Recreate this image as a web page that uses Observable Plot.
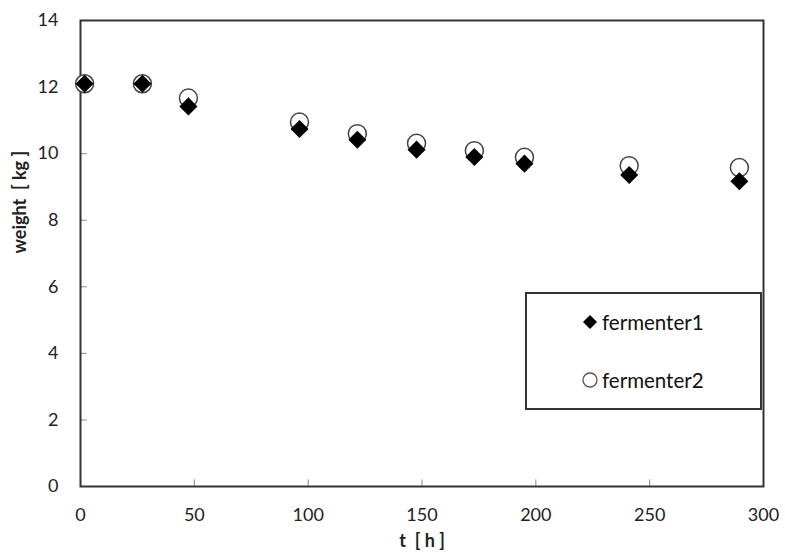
<!DOCTYPE html>
<html><head><meta charset="utf-8">
<script src="https://cdn.jsdelivr.net/npm/d3@7"></script>
<script src="https://cdn.jsdelivr.net/npm/@observablehq/plot@0.6"></script>
<style>
body{margin:0;background:#fff;font-family:Lato,"Open Sans",sans-serif;}
#wrap{position:relative;width:785px;height:554px;}
#legend{position:absolute;left:525px;top:292px;width:237px;height:118px;border:2px solid #333;box-sizing:border-box;background:#fff;font-size:20.5px;color:#111;}
.li{position:absolute;left:55px;display:flex;align-items:center;}
.li svg{margin-right:4px;}
</style></head>
<body><div id="wrap"><div id="chart"></div>
<div id="legend">
<div class="li" style="top:16px"><svg width="16" height="16"><path d="M8,1L15,8L8,15L1,8Z" fill="#000"/></svg>fermenter1</div>
<div class="li" style="top:74px"><svg width="16" height="16"><circle cx="8" cy="8" r="7" fill="none" stroke="#555" stroke-width="1.3"/></svg>fermenter2</div>
</div></div>
<script>
const times = [1.8, 27.2, 47.4, 96.2, 121.6, 147.6, 173, 195, 241, 289.4];
const fermenter1 = [12.1, 12.1, 11.42, 10.74, 10.42, 10.12, 9.9, 9.7, 9.36, 9.17];
const fermenter2 = [12.1, 12.1, 11.67, 10.95, 10.6, 10.31, 10.09, 9.89, 9.64, 9.58];
const xTicks = [0, 50, 100, 150, 200, 250, 300];
const yTicks = [0, 2, 4, 6, 8, 10, 12, 14];

const d1 = times.map((t, i) => ({t, w: fermenter1[i]}));
const d2 = times.map((t, i) => ({t, w: fermenter2[i]}));

const chart = Plot.plot({
  width: 785, height: 554,
  marginLeft: 80, marginRight: 22, marginTop: 20, marginBottom: 68,
  style: {fontFamily: "Lato, 'Open Sans', sans-serif", fontSize: "18px", color: "#222", background: "#fff"},
  x: {domain: [0, 300]},
  y: {domain: [0, 14]},
  marks: [
    Plot.axisX(xTicks, {tickSize: 0, tickPadding: 22, label: null, fontSize: 18}),
    Plot.axisY(yTicks, {tickSize: 0, tickPadding: 22, label: null, fontSize: 18}),
    Plot.ruleY(yTicks.slice(1, -1), {x1: 0, x2: 3, stroke: "#888", strokeWidth: 1}),
    Plot.ruleX(xTicks.slice(1, -1), {y1: 0, y2: 0.2, stroke: "#888", strokeWidth: 1}),
    Plot.frame({stroke: "#333", strokeWidth: 2}),
    Plot.dot(d2, {x: "t", y: "w", r: 9, stroke: "#444", strokeWidth: 1.5, fill: "#fff"}),
    Plot.dot(d1, {x: "t", y: "w", r: 7.2, symbol: "square", rotate: 45, fill: "#000", stroke: "none"}),
    Plot.text(["t  [ h ]"], {frameAnchor: "bottom", dy: 60, fontWeight: "bold", fontSize: 18}),
    Plot.text(["weight  [ kg ]"], {frameAnchor: "left", dx: -60, rotate: -90, fontWeight: "bold", fontSize: 18})
  ]
});
document.getElementById("chart").append(chart);
</script></body></html>
